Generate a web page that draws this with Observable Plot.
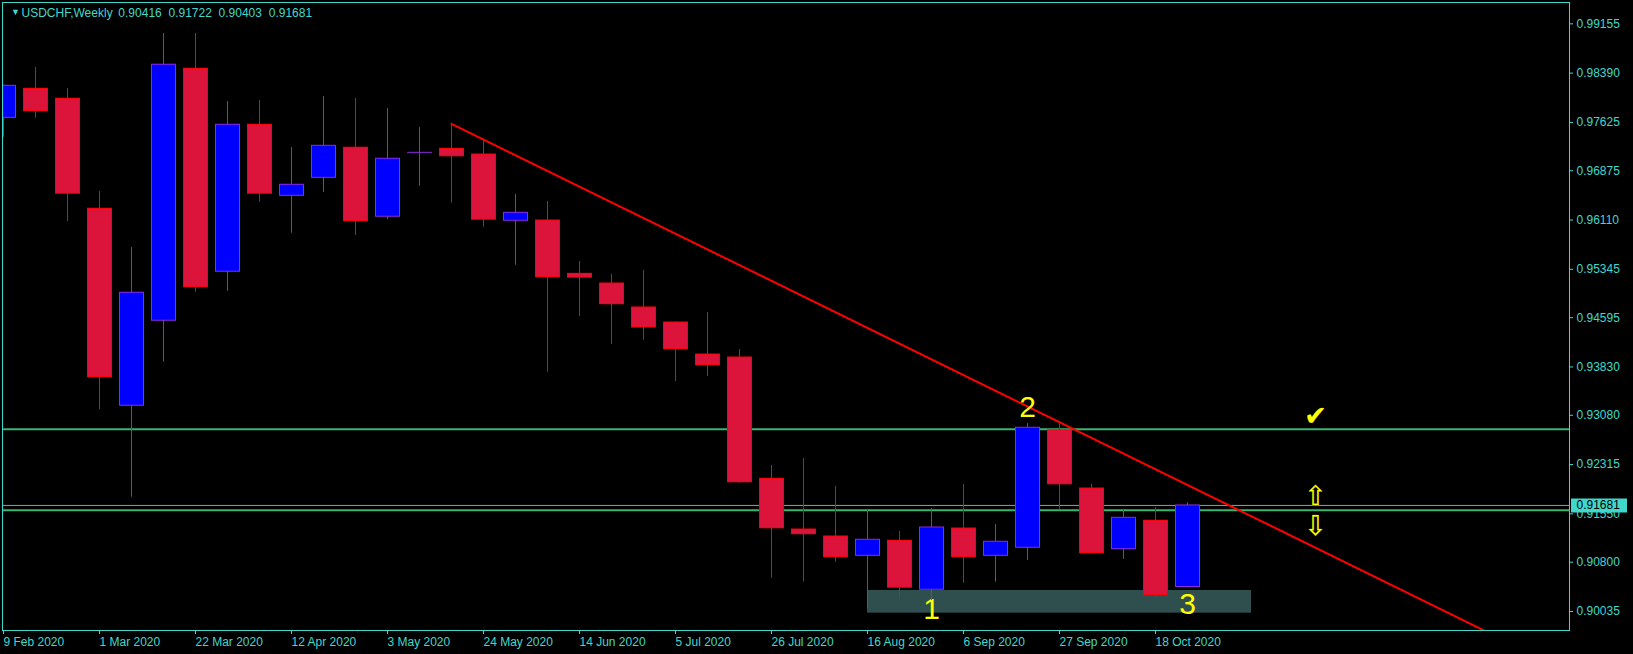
<!DOCTYPE html>
<html><head><meta charset="utf-8">
<script src="https://cdn.jsdelivr.net/npm/d3@7"></script>
<script src="https://cdn.jsdelivr.net/npm/@observablehq/plot@0.6"></script>
<style>
html,body{margin:0;padding:0;background:#000;}
#chart svg{display:block}
</style></head><body><div id="chart"></div>
<script>
// ---- data ----
const symbolName = "USDCHF";
const periodName = "Weekly";
const weekDates = ["2020-02-09","2020-02-16","2020-02-23","2020-03-01","2020-03-08","2020-03-15","2020-03-22","2020-03-29","2020-04-05","2020-04-12","2020-04-19","2020-04-26","2020-05-03","2020-05-10","2020-05-17","2020-05-24","2020-05-31","2020-06-07","2020-06-14","2020-06-21","2020-06-28","2020-07-05","2020-07-12","2020-07-19","2020-07-26","2020-08-02","2020-08-09","2020-08-16","2020-08-23","2020-08-30","2020-09-06","2020-09-13","2020-09-20","2020-09-27","2020-10-04","2020-10-11","2020-10-18","2020-10-25"];
const opens  = [0.97696,0.98146,0.97991,0.96284,0.93227,0.94546,0.98457,0.95307,0.97588,0.96486,0.96765,0.97231,0.96160,0.97153,0.97215,0.97127,0.96098,0.96103,0.95275,0.95125,0.94753,0.94520,0.94023,0.93977,0.92094,0.91307,0.91199,0.90899,0.91132,0.90372,0.91323,0.90899,0.91024,0.92849,0.91944,0.91002,0.91443,0.90416];
const highs  = [0.98210,0.98477,0.98151,0.96553,0.95684,0.99005,0.99005,0.97949,0.97965,0.97235,0.98027,0.97996,0.97841,0.97546,0.97603,0.97344,0.96506,0.96397,0.95466,0.95269,0.95327,0.94525,0.94675,0.94101,0.92301,0.92409,0.91975,0.91618,0.91277,0.91633,0.92006,0.91385,0.92952,0.92948,0.92006,0.91618,0.91649,0.91722];
const lows   = [0.97395,0.97690,0.96087,0.93165,0.91809,0.93904,0.94990,0.95006,0.96387,0.95906,0.96537,0.95870,0.96118,0.96635,0.96371,0.95999,0.95409,0.93749,0.94613,0.94178,0.94245,0.93604,0.93682,0.92026,0.90552,0.90490,0.90800,0.90077,0.90226,0.90206,0.90474,0.90490,0.90827,0.91613,0.90924,0.90842,0.90248,0.90403];
const closes = [0.98193,0.97799,0.96517,0.93671,0.94981,0.98519,0.95068,0.97588,0.96517,0.96657,0.97262,0.96092,0.97060,0.97153,0.97100,0.96114,0.96222,0.95223,0.95215,0.94804,0.94442,0.94105,0.93857,0.92042,0.91328,0.91235,0.90878,0.91148,0.90403,0.91339,0.90878,0.91117,0.92886,0.92011,0.90940,0.91489,0.90288,0.91681];

const xTickLabels = ["9 Feb 2020","1 Mar 2020","22 Mar 2020","12 Apr 2020","3 May 2020","24 May 2020","14 Jun 2020","5 Jul 2020","26 Jul 2020","16 Aug 2020","6 Sep 2020","27 Sep 2020","18 Oct 2020"];
const yTickValues = [0.99155,0.98390,0.97625,0.96875,0.96110,0.95345,0.94595,0.93830,0.93080,0.92315,0.91550,0.90800,0.90035];

const levelPrices = [0.92864, 0.91607];
const trendDates = ["2020-05-17","2020-09-27"];
const trendPrices = [0.97603, 0.92973];
const zoneDates = ["2020-08-16","2020-11-08"];
const zonePrices = [0.90009, 0.90361];
const waveLabels = ["1","2","3"];
const waveDates = ["2020-08-30","2020-09-20","2020-10-25"];
const wavePrices = [0.90066, 0.93201, 0.90148];
const signSymbols = ["\u2714","\u21E7","\u21E9"];
const signDates = ["2020-11-22","2020-11-22","2020-11-22"];
const signPrices = [0.93061, 0.91824, 0.91349];
const viewStart = -1/32, viewEnd = 48.9375;       // visible window, in bars
const priceRange = [0.89740, 0.99486];

// ---- build ----
const WEEK = 7 * 864e5;
const t0 = new Date(weekDates[0]);
const candles = weekDates.map((d, i) => ({date: new Date(d), open: opens[i], high: highs[i], low: lows[i], close: closes[i]}));
const edge = d => d.close >= d.open ? "#8A2BE2" : "#FF0000";
const body = d => d.close > d.open ? "#0000FF" : "#DC143C";
const tickDates = xTickLabels.map(s => d3.utcParse("%d %b %Y")(s));
const last = candles[candles.length - 1];
const f5 = v => v.toFixed(5);
const header = `${symbolName},${periodName}\u00a0\u2009` + [last.open, last.high, last.low, last.close].map(f5).join("\u00a0\u2009\u200a");

const ta = new Date(trendDates[0]), tb = new Date(trendDates[1]);
const slope = (trendPrices[1] - trendPrices[0]) / (tb - ta);
const rayEnd = new Date(+t0 + (viewEnd + 2) * WEEK);
const trend = [{date: ta, price: trendPrices[0]}, {date: rayEnd, price: trendPrices[0] + slope * (rayEnd - ta)}];

const zone = [{x1: new Date(zoneDates[0]), x2: new Date(zoneDates[1]), y1: zonePrices[0], y2: zonePrices[1]}];
const waves = waveLabels.map((t, i) => ({t, date: new Date(waveDates[i]), price: wavePrices[i]}));
const signs = signSymbols.map((t, i) => ({t, date: new Date(signDates[i]), price: signPrices[i]}));

const turq = "#40D8CC";
const chart = Plot.plot({
  width: 1633, height: 654,
  marginTop: 2, marginLeft: 2, marginRight: 64, marginBottom: 24,
  style: {background: "#000", color: turq, fontFamily: "'Liberation Sans', Arial, sans-serif", fontSize: "12px"},
  x: {type: "utc", domain: [new Date(+t0 + viewStart * WEEK), new Date(+t0 + viewEnd * WEEK)]},
  y: {domain: priceRange},
  marks: [
    Plot.rect(zone, {x1: "x1", x2: "x2", y1: "y1", y2: "y2", fill: "#2F4F4F"}),
    Plot.ruleY(levelPrices, {stroke: "#3CB371", strokeWidth: 2}),
    Plot.ruleY([last.close], {stroke: "#9A9A9A", strokeWidth: 1}),
    Plot.line(trend, {x: "date", y: "price", stroke: "#FF0000", strokeWidth: 2, clip: true}),
    Plot.text(waves, {x: "date", y: "price", text: "t", fill: "#FFFF00", fontSize: 30, lineAnchor: "middle", fontFamily: "'Liberation Sans', Arial, sans-serif"}),
    Plot.text(signs, {x: "date", y: "price", text: "t", fill: "#FFFF00", stroke: "#6a6a00", strokeWidth: 0.6, fontSize: 27, lineAnchor: "middle", fontFamily: "'DejaVu Sans', sans-serif"}),
    Plot.ruleX(candles, {x: "date", y1: "high", y2: "low", stroke: edge, strokeWidth: 1, clip: true}),
    Plot.ruleX(candles, {x: "date", y1: d => Math.max(d.open, d.close), y2: d => Math.min(d.open, d.close), stroke: edge, strokeWidth: 25, insetTop: -0.5, insetBottom: -0.5, clip: true}),
    Plot.ruleX(candles.filter(d => d.open !== d.close), {x: "date", y1: d => Math.max(d.open, d.close), y2: d => Math.min(d.open, d.close), stroke: body, strokeWidth: 23, insetTop: 0.5, insetBottom: 0.5, clip: true}),
    Plot.axisX(tickDates, {anchor: "bottom", tickSize: 4, tickPadding: 3, textAnchor: "start", tickFormat: d3.utcFormat("%-d %b %Y"), label: null}),
    Plot.axisY(yTickValues, {anchor: "right", tickSize: 3, tickPadding: 4, tickFormat: f5, label: null}),
    Plot.ruleY([last.close], {stroke: turq, strokeWidth: 14, insetLeft: 1569, insetRight: -58}),
    Plot.text([last.close], {y: d => d, frameAnchor: "right", dx: 7, textAnchor: "start", text: d => f5(d), fill: "#000"}),
    Plot.frame({stroke: turq}),
    Plot.text(["\u25BC"], {frameAnchor: "top-left", dx: 8.5, dy: 10, fontSize: 9, fill: turq, lineAnchor: "middle"}),
    Plot.text([header], {frameAnchor: "top-left", dx: 19, dy: 11, textAnchor: "start", lineAnchor: "middle", fill: turq})
  ]
});
document.getElementById("chart").append(chart);
</script>
</body></html>
